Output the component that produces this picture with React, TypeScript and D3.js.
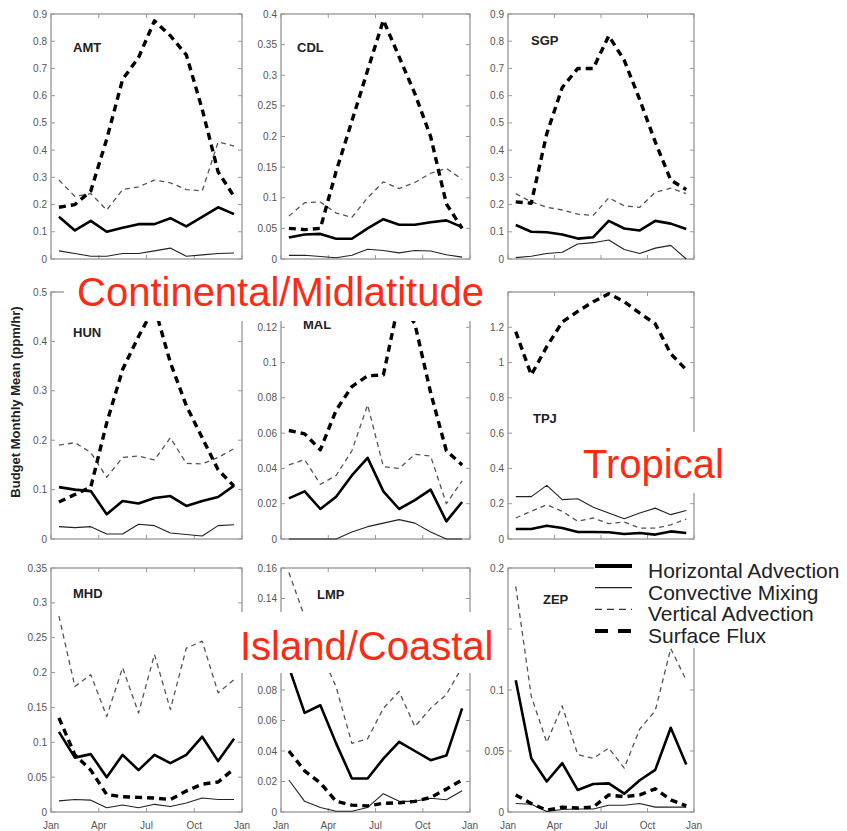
import React, { useEffect, useRef } from 'react';
import * as d3 from 'd3';

const months = ['Jan', 'Feb', 'Mar', 'Apr', 'May', 'Jun', 'Jul', 'Aug', 'Sep', 'Oct', 'Nov', 'Dec'];
const xTickLabels = ['Jan', 'Apr', 'Jul', 'Oct', 'Jan'];
const seriesNames = ['Horizontal Advection', 'Convective Mixing', 'Vertical Advection', 'Surface Flux'];
const stations = ['AMT', 'CDL', 'SGP', 'HUN', 'MAL', 'TPJ', 'MHD', 'LMP', 'ZEP'];
const yMaxes = [0.9, 0.4, 0.9, 0.5, 0.14, 1.4, 0.35, 0.16, 0.2];
const ySteps = [0.1, 0.05, 0.1, 0.1, 0.02, 0.2, 0.05, 0.02, 0.05];

// AMT
const amtHoriz = [0.155, 0.105, 0.14, 0.1, 0.115, 0.128, 0.128, 0.15, 0.12, 0.155, 0.19, 0.165];
const amtConv = [0.03, 0.02, 0.01, 0.01, 0.02, 0.02, 0.03, 0.04, 0.01, 0.015, 0.02, 0.022];
const amtVert = [0.29, 0.23, 0.24, 0.18, 0.255, 0.265, 0.29, 0.28, 0.255, 0.25, 0.43, 0.415];
const amtSurf = [0.19, 0.2, 0.25, 0.44, 0.66, 0.74, 0.875, 0.82, 0.75, 0.55, 0.32, 0.23];
// CDL
const cdlHoriz = [0.035, 0.04, 0.041, 0.033, 0.033, 0.05, 0.065, 0.056, 0.056, 0.06, 0.063, 0.052];
const cdlConv = [0.006, 0.006, 0.004, 0.002, 0.006, 0.016, 0.014, 0.01, 0.014, 0.013, 0.007, 0.003];
const cdlVert = [0.07, 0.092, 0.093, 0.075, 0.068, 0.1, 0.126, 0.115, 0.125, 0.14, 0.148, 0.13];
const cdlSurf = [0.05, 0.048, 0.05, 0.143, 0.225, 0.308, 0.39, 0.33, 0.27, 0.2, 0.09, 0.05];
// SGP
const sgpHoriz = [0.125, 0.1, 0.098, 0.09, 0.075, 0.08, 0.14, 0.112, 0.105, 0.14, 0.13, 0.11];
const sgpConv = [0.005, 0.01, 0.02, 0.025, 0.055, 0.06, 0.07, 0.035, 0.02, 0.04, 0.05, 0.0];
const sgpVert = [0.24, 0.21, 0.19, 0.18, 0.165, 0.16, 0.225, 0.195, 0.19, 0.245, 0.26, 0.24];
const sgpSurf = [0.21, 0.205, 0.46, 0.63, 0.7, 0.7, 0.82, 0.73, 0.585, 0.43, 0.29, 0.255];
// HUN
const hunHoriz = [0.105, 0.1, 0.097, 0.05, 0.077, 0.072, 0.083, 0.087, 0.067, 0.077, 0.085, 0.108];
const hunConv = [0.025, 0.023, 0.025, 0.01, 0.01, 0.03, 0.027, 0.012, 0.009, 0.006, 0.027, 0.029];
const hunVert = [0.19, 0.195, 0.175, 0.125, 0.165, 0.168, 0.16, 0.205, 0.153, 0.152, 0.165, 0.183];
const hunSurf = [0.075, 0.09, 0.105, 0.235, 0.343, 0.41, 0.47, 0.357, 0.27, 0.205, 0.14, 0.107];
// MAL
const malHoriz = [0.023, 0.027, 0.017, 0.024, 0.036, 0.046, 0.027, 0.017, 0.022, 0.028, 0.01, 0.021];
const malConv = [0.0, 0.0, 0.0, 0.0, 0.004, 0.007, 0.009, 0.011, 0.009, 0.004, 0.0, 0.0];
const malVert = [0.042, 0.045, 0.031, 0.036, 0.05, 0.076, 0.041, 0.04, 0.048, 0.047, 0.02, 0.033];
const malSurf = [0.0615, 0.0596, 0.0506, 0.073, 0.0864, 0.0925, 0.093, 0.135, 0.122, 0.083, 0.05, 0.042];
// TPJ
const tpjHoriz = [0.057, 0.057, 0.075, 0.062, 0.04, 0.04, 0.038, 0.028, 0.034, 0.025, 0.043, 0.034];
const tpjConv = [0.24, 0.24, 0.304, 0.223, 0.228, 0.18, 0.147, 0.115, 0.147, 0.175, 0.138, 0.162];
const tpjVert = [0.119, 0.157, 0.194, 0.157, 0.1, 0.119, 0.087, 0.096, 0.062, 0.062, 0.08, 0.113];
const tpjSurf = [1.175, 0.93, 1.09, 1.23, 1.29, 1.345, 1.39, 1.345, 1.28, 1.22, 1.05, 0.96];
// MHD
const mhdHoriz = [0.115, 0.078, 0.083, 0.05, 0.082, 0.06, 0.082, 0.07, 0.082, 0.108, 0.073, 0.105];
const mhdConv = [0.016, 0.018, 0.017, 0.006, 0.01, 0.006, 0.011, 0.008, 0.013, 0.02, 0.018, 0.018];
const mhdVert = [0.281, 0.18, 0.197, 0.137, 0.207, 0.142, 0.226, 0.147, 0.235, 0.245, 0.171, 0.19];
const mhdSurf = [0.135, 0.082, 0.06, 0.025, 0.022, 0.021, 0.02, 0.018, 0.03, 0.04, 0.043, 0.062];
// LMP
const lmpHoriz = [0.095, 0.065, 0.07, 0.045, 0.022, 0.022, 0.035, 0.046, 0.04, 0.034, 0.037, 0.068];
const lmpConv = [0.021, 0.007, 0.003, 0.0005, 0.0005, 0.003, 0.012, 0.007, 0.007, 0.009, 0.008, 0.014];
const lmpVert = [0.157, 0.128, 0.105, 0.082, 0.045, 0.048, 0.068, 0.079, 0.056, 0.068, 0.077, 0.095];
const lmpSurf = [0.04, 0.027, 0.019, 0.007, 0.0045, 0.004, 0.0057, 0.006, 0.007, 0.0095, 0.015, 0.021];
// ZEP
const zepHoriz = [0.108, 0.044, 0.025, 0.04, 0.018, 0.023, 0.0235, 0.015, 0.026, 0.0345, 0.069, 0.039];
const zepConv = [0.007, 0.0064, 0.0005, 0.002, 0.0025, 0.0025, 0.0055, 0.0055, 0.007, 0.004, 0.004, 0.004];
const zepVert = [0.185, 0.095, 0.057, 0.087, 0.047, 0.044, 0.0525, 0.036, 0.068, 0.083, 0.134, 0.108];
const zepSurf = [0.014, 0.007, 0.0015, 0.004, 0.0033, 0.004, 0.014, 0.0125, 0.014, 0.019, 0.01, 0.005];

const stationSeries = [
  [amtHoriz, amtConv, amtVert, amtSurf],
  [cdlHoriz, cdlConv, cdlVert, cdlSurf],
  [sgpHoriz, sgpConv, sgpVert, sgpSurf],
  [hunHoriz, hunConv, hunVert, hunSurf],
  [malHoriz, malConv, malVert, malSurf],
  [tpjHoriz, tpjConv, tpjVert, tpjSurf],
  [mhdHoriz, mhdConv, mhdVert, mhdSurf],
  [lmpHoriz, lmpConv, lmpVert, lmpSurf],
  [zepHoriz, zepConv, zepVert, zepSurf],
];

const regionLabels = ['Continental/Midlatitude', 'Tropical', 'Island/Coastal'];

const FONT = 'Liberation Sans, Arial, Helvetica, sans-serif';

// line styles for horizontal, convective, vertical, surface
const styles = [
  { stroke: '#000', width: 2.6, dash: null },
  { stroke: '#222', width: 1.1, dash: null },
  { stroke: '#555', width: 1.3, dash: '5,4' },
  { stroke: '#000', width: 3.4, dash: '7,5' },
];

const App = () => {
  const svgRef = useRef(null);

  useEffect(() => {
    const svg = d3.select(svgRef.current);
    svg.selectAll('*').remove();

    const cols = [{ x: 51, w: 191 }, { x: 281, w: 189 }, { x: 508, w: 186 }];
    const rows = [{ y: 14, h: 245 }, { y: 292, h: 247 }, { y: 568, h: 244 }];
    // title offsets inside panel
    const titlePos = [[22, 38], [16, 38], [23, 31], [22, 45], [22, 37], [25, 131], [22, 30], [36, 31], [35, 36]];

    // white boxes behind the red region labels (they cover parts of the panels)
    const labelBoxes = [
      { x: 64, y: 268, w: 440, h: 53, tx: 77, ty: 306 },
      { x: 576, y: 432, w: 150, h: 61, tx: 583, ty: 478 },
      { x: 236, y: 612, w: 268, h: 61, tx: 240, ty: 660 },
    ];
    const covered = (px, py) => labelBoxes.some((b) =>
      px >= b.x && px <= b.x + b.w && py >= b.y && py <= b.y + b.h);

    stations.forEach((name, i) => {
      const col = cols[i % 3];
      const row = rows[Math.floor(i / 3)];
      const x = d3.scaleLinear().domain([0, 12]).range([col.x, col.x + col.w]);
      const y = d3.scaleLinear().domain([0, yMaxes[i]]).range([row.y + row.h, row.y]);
      const g = svg.append('g');

      const yTicks = d3.range(0, yMaxes[i] + ySteps[i] / 2, ySteps[i]);
      const fmt = (v) => String(+v.toFixed(3));

      g.append('rect')
        .attr('x', col.x).attr('y', row.y)
        .attr('width', col.w).attr('height', row.h)
        .attr('fill', 'none').attr('stroke', '#777').attr('stroke-width', 1);

      yTicks.forEach((t) => {
        g.append('line').attr('x1', col.x).attr('x2', col.x + 4)
          .attr('y1', y(t)).attr('y2', y(t)).attr('stroke', '#999');
        g.append('line').attr('x1', col.x + col.w).attr('x2', col.x + col.w - 4)
          .attr('y1', y(t)).attr('y2', y(t)).attr('stroke', '#999');
        if (covered(col.x - 4, y(t))) return;
        g.append('text')
          .attr('x', col.x - 4).attr('y', y(t)).attr('dy', '0.35em')
          .attr('text-anchor', 'end')
          .attr('font-family', FONT).attr('font-size', 10)
          .attr('fill', '#555')
          .text(fmt(t));
      });

      xTickLabels.forEach((lab, k) => {
        const xv = x(k * 3);
        g.append('line').attr('x1', xv).attr('x2', xv)
          .attr('y1', row.y + row.h).attr('y2', row.y + row.h - 4).attr('stroke', '#999');
        g.append('line').attr('x1', xv).attr('x2', xv)
          .attr('y1', row.y).attr('y2', row.y + 4).attr('stroke', '#999');
        if (i >= 6) {
          g.append('text')
            .attr('x', xv).attr('y', 829)
            .attr('text-anchor', 'middle')
            .attr('font-family', FONT).attr('font-size', 10)
            .attr('fill', '#555')
            .text(lab);
        }
      });

      const line = d3.line()
        .x((d, k) => x(k + 0.5))
        .y((d) => y(d));

      stationSeries[i].forEach((vals, s) => {
        const st = styles[s];
        g.append('path')
          .datum(vals)
          .attr('d', line)
          .attr('fill', 'none')
          .attr('stroke', st.stroke)
          .attr('stroke-width', st.width)
          .attr('stroke-linejoin', 'round')
          .attr('stroke-dasharray', st.dash);
      });

      g.append('text')
        .attr('x', col.x + titlePos[i][0]).attr('y', row.y + titlePos[i][1])
        .attr('font-family', FONT).attr('font-size', 13).attr('font-weight', 'bold')
        .attr('fill', '#222')
        .text(name);
    });

    svg.append('text')
      .attr('transform', 'translate(20,402) rotate(-90)')
      .attr('text-anchor', 'middle')
      .attr('font-family', FONT).attr('font-size', 13).attr('font-weight', 'bold')
      .attr('fill', '#222')
      .text('Budget Monthly Mean (ppm/hr)');

    regionLabels.forEach((lab, k) => {
      const b = labelBoxes[k];
      svg.append('rect').attr('x', b.x).attr('y', b.y)
        .attr('width', b.w).attr('height', b.h).attr('fill', '#fff');
      svg.append('text')
        .attr('x', b.tx).attr('y', b.ty)
        .attr('font-family', FONT).attr('font-size', 40)
        .attr('fill', '#ff2a12')
        .text(lab);
    });

    // legend
    svg.append('rect').attr('x', 594).attr('y', 555)
      .attr('width', 253).attr('height', 93).attr('fill', '#fff');
    const legendStyles = [
      { width: 4, dash: null, stroke: '#000' },
      { width: 1.3, dash: null, stroke: '#222' },
      { width: 1.3, dash: '7,5', stroke: '#333' },
      { width: 4, dash: '13,10', stroke: '#000' },
    ];
    seriesNames.forEach((nm, k) => {
      const base = 578 + k * 21.7;
      const ls = legendStyles[k];
      svg.append('line')
        .attr('x1', 595).attr('x2', 632)
        .attr('y1', base - 12).attr('y2', base - 12)
        .attr('stroke', ls.stroke).attr('stroke-width', ls.width)
        .attr('stroke-dasharray', ls.dash);
      svg.append('text')
        .attr('x', 648).attr('y', base)
        .attr('font-family', FONT).attr('font-size', 21)
        .attr('fill', '#222')
        .text(nm);
    });
  }, []);

  return (
    <svg
      ref={svgRef}
      width={847}
      height={831}
      style={{ position: 'absolute', left: 0, top: 0, background: '#fff' }}
    />
  );
};

export default App;
